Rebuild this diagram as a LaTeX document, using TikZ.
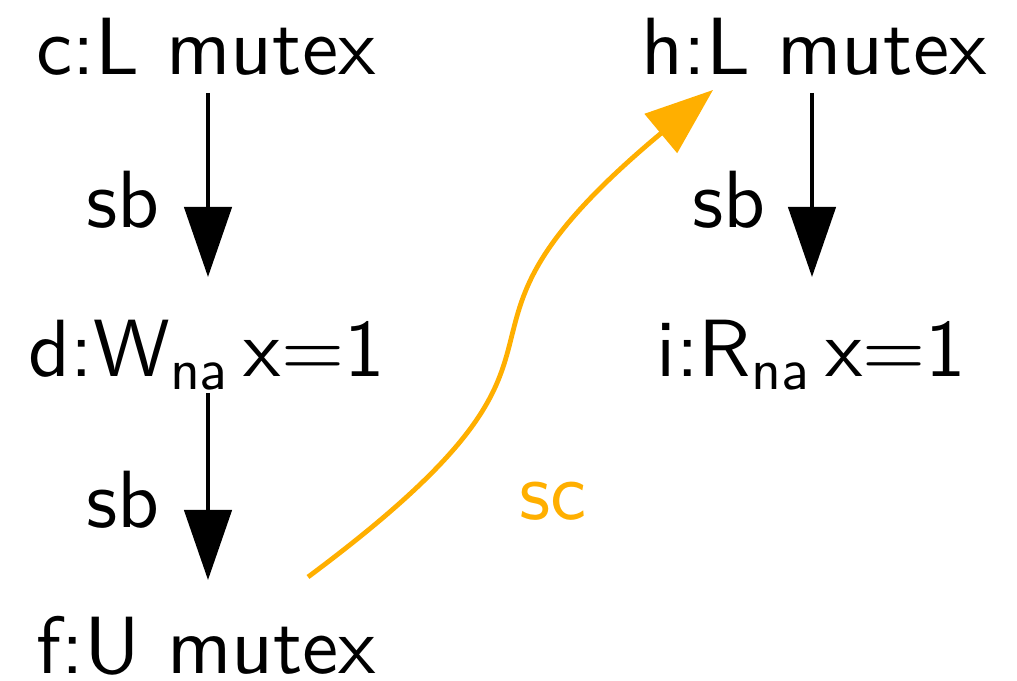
\documentclass[tikz,border=0pt]{standalone}
\usepackage{fontspec}
\newfontfamily\lmsten{lmsans10-regular.otf}
\usetikzlibrary{arrows.meta}
\definecolor{scorange}{RGB}{255,175,0}
\tikzset{
  evt/.style={inner sep=0pt, anchor=base west, font=\lmsten\fontsize{20.3}{24}\selectfont},
  lbl/.style={inner sep=0pt, anchor=base east, font=\lmsten\fontsize{20.3}{24}\selectfont},
  sbarrow/.style={draw=black, line width=1pt, -{Triangle[length=17.5pt,width=11.8pt]}},
  scarrow/.style={draw=scorange, line width=1.2pt, -{Triangle[length=17pt,width=12.5pt]}},
}
\newcommand{\subna}{\raisebox{-3.2pt}{\fontsize{14.5}{16}\selectfont na}}
\begin{document}
\begin{tikzpicture}[x=0.25pt,y=-0.25pt]
\useasboundingbox (0,0) rectangle (1017,681);
% events
\node[evt] (c) at (36,75) {c:L mutex};
\node[evt] (d) at (28,377) {d:W\subna\hspace{4pt}x=1};
\node[evt] (f) at (36,674) {f:U mutex};
\node[evt] (h) at (641,75) {h:L mutex};
\node[evt] (i) at (656,377) {i:R\subna\hspace{4pt}x=1};
% labels
\node[lbl] (sb1) at (160,228) {sb};
\node[lbl] (sb2) at (160,528) {sb};
\node[lbl] (sb3) at (766,228) {sb};
\node[lbl, text=scorange] (sc) at (587,520) {sc};
% sb edges
\draw[sbarrow] (208,93) -- (208,277);
\draw[sbarrow] (208,393) -- (208,580);
\draw[sbarrow] (812,93) -- (812,277);
% sc edge
\draw[scarrow] (308,577) .. controls (640,330) and (395,355) .. (713,90);
\end{tikzpicture}
\end{document}
